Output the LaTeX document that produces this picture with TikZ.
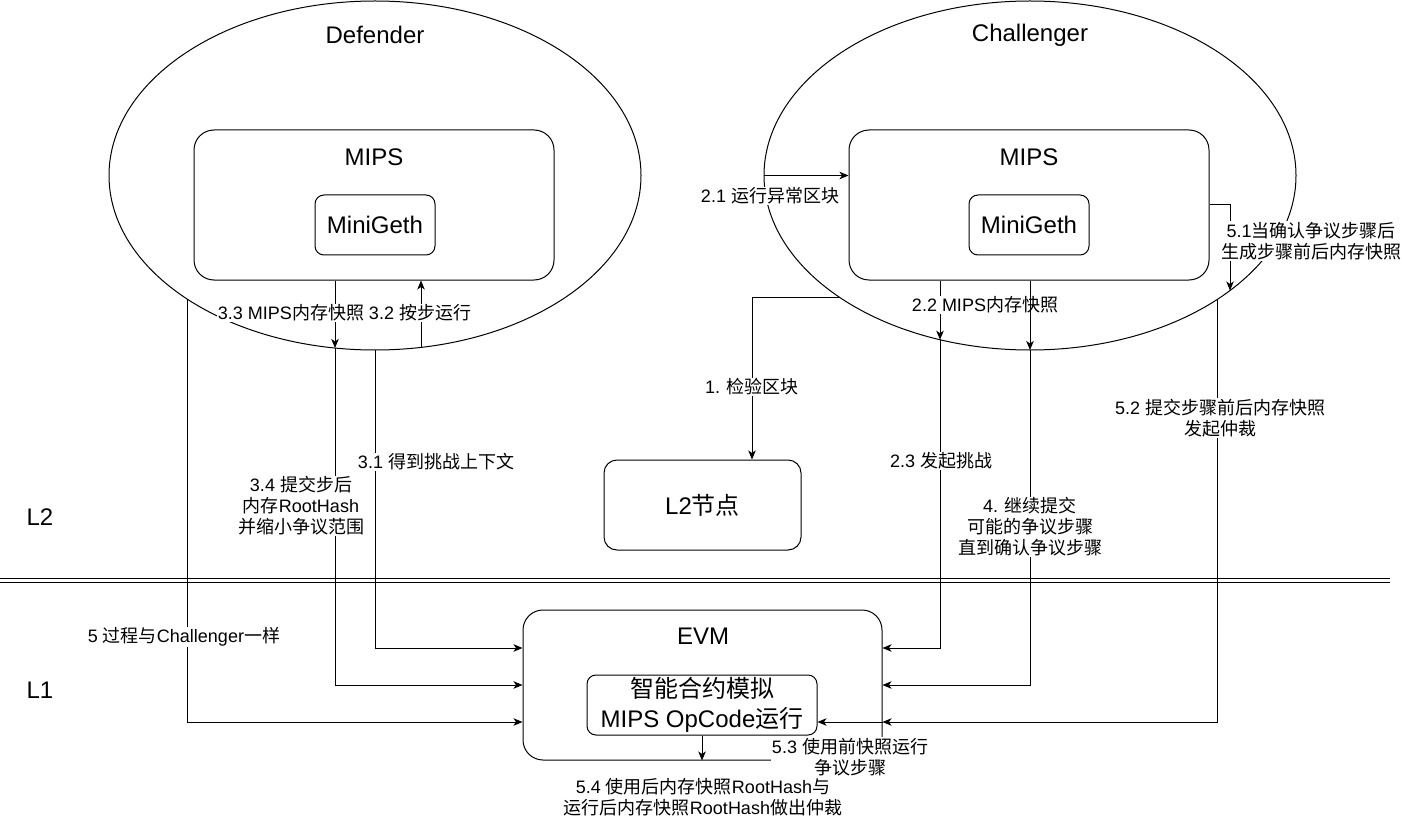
\documentclass[tikz,border=0pt]{standalone}
\usepackage{fontspec}
\setmainfont{Liberation Sans}
\newfontfamily\cjk{Noto Sans CJK SC}
\newcommand{\zh}[1]{{\cjk #1}}
\usetikzlibrary{shapes.geometric,arrows.meta}
\begin{document}
\begin{tikzpicture}[x=1pt,y=-1pt,line width=1pt,
  ell/.style={draw,ellipse,minimum width=532pt,minimum height=349pt,inner sep=0pt},
  rbox/.style={draw,rounded corners=#1,inner sep=0pt},
  title/.style={inner sep=0pt,font=\fontsize{24}{29}\selectfont},
  lab/.style={fill=white,inner sep=1pt,align=center,font=\fontsize{18}{21}\selectfont},
  arr/.style={-{Stealth[length=9pt,width=7.5pt,inset=2.5pt]}},
  sep/.style={line width=1.2pt}]
\fill[white] (0,0) rectangle (1402,818);
\useasboundingbox (0,0) rectangle (1402,818);

% ellipses
\node[ell] (def) at (375,175.5) {};
\node[ell] (chal) at (1030,175.5) {};
\node[title] (deft) at (375,35) {Defender};
\node[title] (chalt) at (1030,35) {Challenger};

% MIPS boxes
\node[rbox=20pt,minimum width=360pt,minimum height=150pt] (dmips) at (374,205) {};
\node[rbox=20pt,minimum width=360pt,minimum height=150pt] (cmips) at (1029,205) {};
\node[title] (dmipst) at (374,157) {MIPS};
\node[title] (cmipst) at (1029,157) {MIPS};
\node[rbox=9pt,minimum width=120pt,minimum height=60pt,title] (dgeth) at (375,225) {MiniGeth};
\node[rbox=9pt,minimum width=120pt,minimum height=60pt,title] (cgeth) at (1029,225) {MiniGeth};

% L2 node
\node[rbox=13pt,minimum width=197pt,minimum height=90pt,title] (l2) at (702.5,505) {L2\zh{节点}};

% EVM
\node[rbox=20pt,minimum width=359pt,minimum height=150pt] (evm) at (702.5,685) {};
\node[title] (evmt) at (703,636) {EVM};
\node[rbox=9pt,minimum width=230pt,minimum height=60pt,align=center,inner sep=0pt,font=\fontsize{24}{30}\selectfont] (inner) at (702,705) {\zh{智能合约模拟}\\MIPS OpCode\zh{运行}};

% layer separators
\draw[sep] (0,578.3) coordinate (s1a) -- (1390,578.3) coordinate (s1b);
\draw[sep] (0,582.3) coordinate (s2a) -- (1390,582.3) coordinate (s2b);
\node[title] (L2t) at (40,517) {L2};
\node[title] (L1t) at (40,690) {L1};

% ellipse border points
\coordinate (d33) at (335,348.0);
\coordinate (d31) at (375,350);
\coordinate (d32) at (421,347.4);
\coordinate (d5) at (187,299.0);
\coordinate (c1) at (840,297.6);
\coordinate (c22) at (940,339.7);
\coordinate (c4) at (1030,350);
\coordinate (c51) at (1230,290.5);
\coordinate (c52) at (1217,299.6);

% Defender edges
\draw[arr] (dmips.south -| d33) -- (d33);
\draw[arr] (d33) |- (evm.west);
\draw[arr] (d32) -- (d32 |- dmips.south);
\draw[arr] (d31) |- ([yshift=37pt]evm.west);
\draw[arr] (d5) |- ([yshift=-37pt]evm.west);

% Challenger edges
\draw[arr] (chal.west) -- (chal.west -| cmips.west);
\draw[arr] (c1) -| ([xshift=49.5pt]l2.north);
\draw[arr] (cmips.south -| c22) -- (c22);
\draw[arr] (c22) |- ([yshift=37pt]evm.east);
\draw[arr] (c4) |- (evm.east);
\draw[arr] (cmips.east) -| (c51);
\draw[arr] (c52) |- ([yshift=-37pt]evm.east);

% EVM internal edges
\draw[arr] ([yshift=-37pt]evm.east) -- ([yshift=-17pt]inner.east);
\draw[arr] (inner.south) -- (inner.south |- evm.south);

% labels
\node[lab] (l1) at (752,387) {1. \zh{检验区块}};
\node[lab] (l21) at (770,196) {2.1 \zh{运行异常区块}};
\node[lab] (l22) at (985,305) {2.2 MIPS\zh{内存快照}};
\node[lab] (l23) at (941,461) {2.3 \zh{发起挑战}};
\node[lab] (l4) at (1030,527) {4. \zh{继续提交}\\\zh{可能的争议步骤}\\\zh{直到确认争议步骤}};
\node[lab] (l33) at (291,313) {3.3 MIPS\zh{内存快照}};
\node[lab] (l32) at (420,313) {3.2 \zh{按步运行}};
\node[lab] (l31) at (436,462) {3.1 \zh{得到挑战上下文}};
\node[lab] (l34) at (301,506) {3.4 \zh{提交步后}\\\zh{内存}RootHash\\\zh{并缩小争议范围}};
\node[lab] (l5) at (184,637) {5 \zh{过程与}Challenger\zh{一样}};
\node[lab] (l51) at (1311,241) {5.1\zh{当确认争议步骤后}\\\zh{生成步骤前后内存快照}};
\node[lab] (l52) at (1220,418) {5.2 \zh{提交步骤前后内存快照}\\\zh{发起仲裁}};
\node[lab] (l53) at (850,757) {5.3 \zh{使用前快照运行}\\\zh{争议步骤}};
\node[lab] (l54) at (703,797) {5.4 \zh{使用后内存快照}RootHash\zh{与}\\\zh{运行后内存快照}RootHash\zh{做出仲裁}};

% edge drawn over the 2.2 label
\draw[arr] (cmips.south -| c4) -- (c4);
\end{tikzpicture}
\end{document}
